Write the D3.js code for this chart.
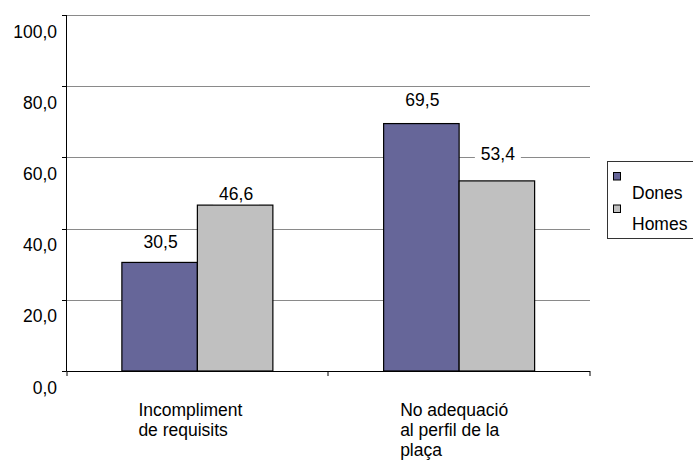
<!DOCTYPE html>
<html>
<head>
<meta charset="utf-8">
<script src="https://cdn.jsdelivr.net/npm/d3@7"></script>
<style>
  html, body { margin: 0; padding: 0; background: #fff; }
  svg { display: block; font-family: Arial, "Liberation Sans", sans-serif; }
</style>
</head>
<body>
<svg id="chart" width="693" height="461"></svg>
<script>
// Categories (each label split into its display lines)
const categories = ["Incompliment de requisits", "No adequació al perfil de la plaça"];
const categoryLines = [["Incompliment", "de requisits"], ["No adequació", "al perfil de la", "plaça"]];
const seriesNames = ["Dones", "Homes"];
const dones = [30.5, 69.5];
const homes = [46.6, 53.4];
const yTicks = [0, 20, 40, 60, 80, 100];
const tickLabels = ["0,0", "20,0", "40,0", "60,0", "80,0", "100,0"];

const colors = { Dones: "#666699", Homes: "#C0C0C0" };
const fmt = v => v.toFixed(1).replace(".", ",");

const svg = d3.select("#chart");
const plot = { left: 66.5, right: 590, top: 15, bottom: 371 };

const y = d3.scaleLinear().domain([0, 100]).range([plot.bottom, plot.top]);
const x0 = d3.scaleBand().domain(categories).range([plot.left, plot.right]).padding(0);
const barW = 75.5;
const x1 = d3.scaleBand().domain(seriesNames).range([0, barW * 2]).padding(0);

const crisp = v => Math.round(v) + 0.5;

// horizontal gridlines
svg.append("g").selectAll("line")
  .data(yTicks.filter(t => t > 0))
  .join("line")
  .attr("x1", plot.left).attr("x2", plot.right)
  .attr("y1", d => crisp(y(d))).attr("y2", d => crisp(y(d)))
  .attr("stroke", "#8a8a8a").attr("stroke-width", 1);

// bars
const rows = categories.map((c, i) => ({ cat: c, vals: [
  { s: "Dones", v: dones[i] }, { s: "Homes", v: homes[i] }] }));

// vertical lift of each value label above its bar (per category, per series)
const labelLift = [[14, 5], [17.5, 21]];

const groups = svg.append("g").selectAll("g")
  .data(rows)
  .join("g")
  .attr("transform", d => `translate(${x0(d.cat) + x0.bandwidth() / 2 - barW},0)`);

groups.selectAll("rect")
  .data(d => d.vals)
  .join("rect")
  .attr("x", d => x1(d.s))
  .attr("y", d => y(d.v))
  .attr("width", x1.bandwidth())
  .attr("height", d => y(0) - y(d.v))
  .attr("fill", d => colors[d.s])
  .attr("stroke", "#000").attr("stroke-width", 1.2);

// value labels on a white plate so gridlines break around them
groups.each(function (d, ci) {
  const g = d3.select(this);
  d.vals.forEach((v, si) => {
    const cx = x1(v.s) + x1.bandwidth() / 2 + 1;
    const by = y(v.v) - labelLift[ci][si];
    g.append("rect")
      .attr("x", cx - 23).attr("y", by - 15)
      .attr("width", 46).attr("height", 19)
      .attr("fill", "#fff");
    g.append("text")
      .attr("x", cx)
      .attr("y", by)
      .attr("text-anchor", "middle")
      .attr("font-size", 17.5)
      .attr("fill", "#000")
      .text(fmt(v.v));
  });
});

// y axis
const ya = svg.append("g");
ya.append("line")
  .attr("x1", plot.left).attr("x2", plot.left)
  .attr("y1", plot.top).attr("y2", plot.bottom)
  .attr("stroke", "#000");
ya.selectAll("line.tick")
  .data(yTicks).join("line").attr("class", "tick")
  .attr("x1", plot.left - 4.5).attr("x2", plot.left)
  .attr("y1", d => crisp(y(d))).attr("y2", d => crisp(y(d)))
  .attr("stroke", "#000");
ya.selectAll("text")
  .data(yTicks).join("text")
  .attr("x", 57)
  .attr("y", d => y(d) + 22.5)
  .attr("text-anchor", "end")
  .attr("font-size", 17.5)
  .text((d, i) => tickLabels[i]);

// x axis
const xa = svg.append("g");
xa.append("line")
  .attr("x1", plot.left).attr("x2", plot.right)
  .attr("y1", crisp(plot.bottom)).attr("y2", crisp(plot.bottom))
  .attr("stroke", "#000");
const bounds = [plot.left, ...categories.map(c => x0(c) + x0.bandwidth())];
xa.selectAll("line.tick")
  .data(bounds).join("line").attr("class", "tick")
  .attr("x1", d => crisp(d) - 0.5).attr("x2", d => crisp(d) - 0.5)
  .attr("y1", plot.bottom).attr("y2", plot.bottom + 5)
  .attr("stroke", "#000");

// category labels
categories.forEach((c, i) => {
  const t = xa.append("text")
    .attr("x", x0(c) + x0.bandwidth() / 2 - 59)
    .attr("y", 416)
    .attr("font-size", 17.5);
  categoryLines[i].forEach((line, li) => {
    t.append("tspan")
      .attr("x", x0(c) + x0.bandwidth() / 2 - 59)
      .attr("dy", li === 0 ? 0 : 20)
      .text(line);
  });
});

// legend
const lg = svg.append("g");
lg.append("rect")
  .attr("x", 607.5).attr("y", 161.5)
  .attr("width", 90).attr("height", 77)
  .attr("fill", "#fff").attr("stroke", "#333").attr("stroke-width", 1);
seriesNames.forEach((s, i) => {
  lg.append("rect")
    .attr("x", 613.5).attr("y", 172.5 + i * 32.5)
    .attr("width", 7).attr("height", 7.5)
    .attr("fill", colors[s]).attr("stroke", "#000").attr("stroke-width", 1);
  lg.append("text")
    .attr("x", 632).attr("y", 198.5 + i * 31.5)
    .attr("font-size", 17.5)
    .text(s);
});
</script>
</body>
</html>
